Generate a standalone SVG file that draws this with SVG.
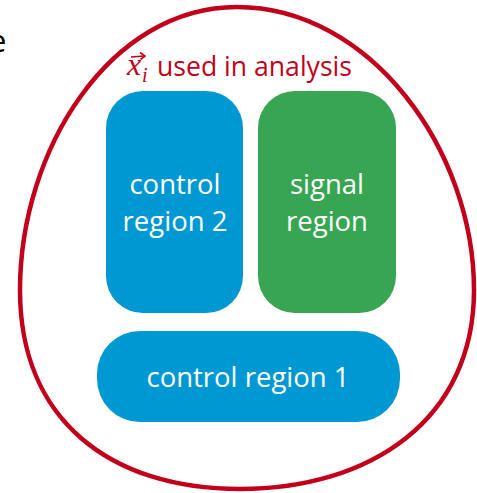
<svg xmlns="http://www.w3.org/2000/svg" width="477" height="493" viewBox="0 0 477 493">
<style>
.lbl{font-family:"Open Sans","Noto Sans",sans-serif;font-size:27.5px;fill:#ffffff;text-anchor:middle}
.blue{fill:#0098d3}
.green{fill:#37a552}
</style>
<rect width="477" height="493" fill="#ffffff"/>
<text x="-11" y="52" font-family="'Open Sans','Noto Sans',sans-serif" font-size="31" fill="#000000">e</text>
<g id="analysis">
<path d="M 237 7 C 370 7 474 150 474 290 C 474 420 370 489 240 489 C 110 489 20 420 20 290 C 20 150 110 7 237 7 Z" fill="none" stroke="#c2001b" stroke-width="4.5"/>
<text x="127" y="75" font-family="'Liberation Serif',serif" font-style="italic" font-size="32" fill="#c2001b">x</text>
<text x="142" y="82" font-family="'Liberation Serif',serif" font-style="italic" font-size="20" fill="#c2001b">i</text>
<path d="M 131 57 L 144 56" stroke="#c2001b" stroke-width="1.6" fill="none"/>
<path d="M 140 52.5 L 145 56 L 140.5 59.5" stroke="#c2001b" stroke-width="1.6" fill="none"/>
<text x="157" y="76" font-family="'Open Sans','Noto Sans',sans-serif" font-size="26.6" fill="#c2001b">used in analysis</text>
</g>
<g id="control-region-2">
<rect class="blue" x="106" y="91" width="137" height="222" rx="37"/>
<text class="lbl" x="175" y="194">control</text>
<text class="lbl" x="175" y="231">region 2</text>
</g>
<g id="signal-region">
<rect class="green" x="258" y="91" width="138" height="222" rx="37"/>
<text class="lbl" x="327" y="194">signal</text>
<text class="lbl" x="327" y="231">region</text>
</g>
<g id="control-region-1">
<rect class="blue" x="97" y="331" width="303" height="91" rx="43"/>
<text class="lbl" x="248" y="387">control region 1</text>
</g>
</svg>
